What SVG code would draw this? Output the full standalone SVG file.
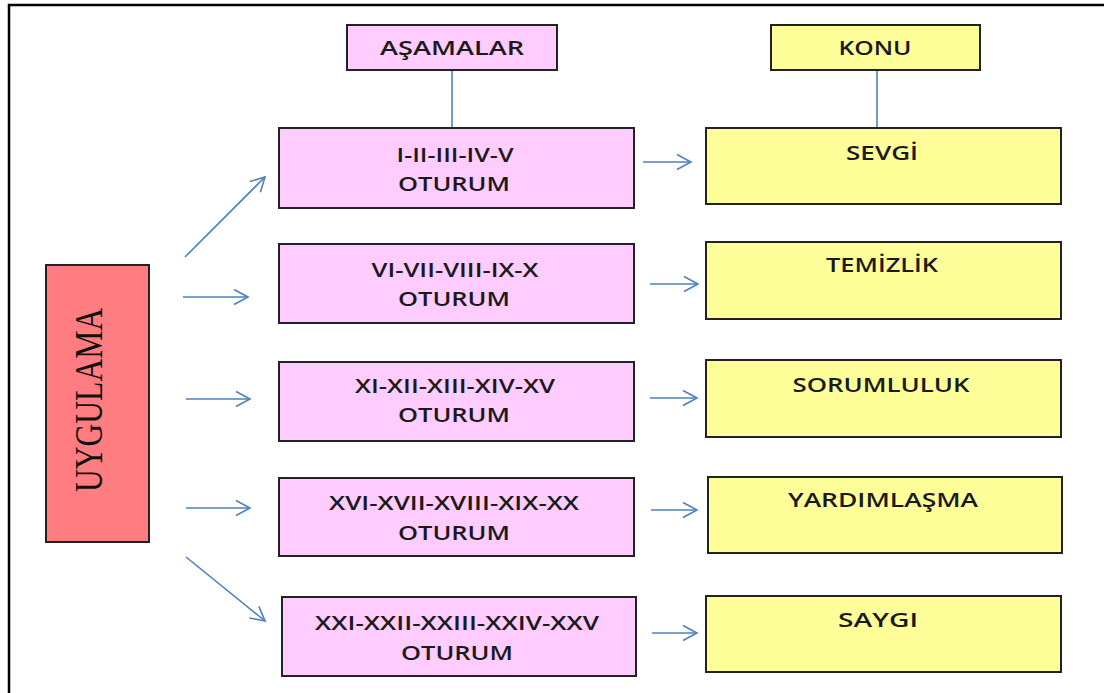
<svg xmlns="http://www.w3.org/2000/svg" width="1104" height="693" viewBox="0 0 1104 693">
<style>
.frame{fill:none;stroke:#000;stroke-width:2.5}
.box{stroke:#222;stroke-width:2}
.pink{fill:#FFCCFF}
.yellow{fill:#FFFF99}
.red{fill:#FF7C80}
.t{font-family:"Open Sans","Liberation Sans",sans-serif;font-size:20px;font-weight:600;fill:#1a1a1a;text-anchor:middle}
.serif{font-family:"Liberation Serif","Times New Roman",serif;font-size:40px;fill:#111;text-anchor:middle}
.ln{stroke:#4F81BD;stroke-width:1.6;fill:none}
.arr{stroke:#4F81BD;stroke-width:1.6;fill:none;marker-end:url(#ah)}
</style>
<defs>
<marker id="ah" viewBox="0 0 18 18" markerWidth="18" markerHeight="18" refX="16" refY="9" orient="auto" markerUnits="userSpaceOnUse">
<path d="M2,1.5 L16,9 L2,16.5" fill="none" stroke="#4F81BD" stroke-width="1.6"/>
</marker>
</defs>
<rect x="0" y="0" width="1104" height="693" fill="#fff"/>
<rect class="frame" x="9" y="5" width="1110" height="700"/>

<g id="connectors">
<line class="ln" x1="452" y1="70" x2="452" y2="128"/>
<line class="ln" x1="877" y1="70" x2="877" y2="128"/>
<line class="arr" x1="185" y1="257" x2="265" y2="177"/>
<line class="arr" x1="183" y1="297" x2="248" y2="297"/>
<line class="arr" x1="186" y1="399" x2="250" y2="399"/>
<line class="arr" x1="186" y1="508" x2="250" y2="508"/>
<line class="arr" x1="186" y1="557" x2="265" y2="621"/>
<line class="arr" x1="643" y1="162" x2="691" y2="162"/>
<line class="arr" x1="650" y1="284" x2="698" y2="284"/>
<line class="arr" x1="650" y1="398" x2="697" y2="398"/>
<line class="arr" x1="651" y1="510" x2="697" y2="510"/>
<line class="arr" x1="652" y1="633" x2="697" y2="633"/>
</g>

<g id="uygulama">
<rect class="box red" x="46" y="265" width="103" height="277"/>
<text class="serif" x="102" y="400" transform="rotate(-90 102 400)" textLength="184" lengthAdjust="spacingAndGlyphs">UYGULAMA</text>
</g>

<g id="asamalar">
<rect class="box pink" x="347" y="25" width="210" height="45"/>
<text class="t" x="452" y="55" textLength="144" lengthAdjust="spacingAndGlyphs">AŞAMALAR</text>
</g>
<g id="konu">
<rect class="box yellow" x="771" y="25" width="209" height="45"/>
<text class="t" x="875" y="55" textLength="73" lengthAdjust="spacingAndGlyphs">KONU</text>
</g>

<g id="a1">
<rect class="box pink" x="279" y="128" width="355" height="80"/>
<text class="t" x="455" y="162" textLength="117" lengthAdjust="spacingAndGlyphs">I-II-III-IV-V</text>
<text class="t" x="454" y="191" textLength="112" lengthAdjust="spacingAndGlyphs">OTURUM</text>
</g>
<g id="a2">
<rect class="box pink" x="279" y="244" width="355" height="79"/>
<text class="t" x="455" y="277" textLength="167" lengthAdjust="spacingAndGlyphs">VI-VII-VIII-IX-X</text>
<text class="t" x="454" y="306" textLength="112" lengthAdjust="spacingAndGlyphs">OTURUM</text>
</g>
<g id="a3">
<rect class="box pink" x="279" y="362" width="355" height="79"/>
<text class="t" x="455" y="393" textLength="200" lengthAdjust="spacingAndGlyphs">XI-XII-XIII-XIV-XV</text>
<text class="t" x="454" y="422" textLength="112" lengthAdjust="spacingAndGlyphs">OTURUM</text>
</g>
<g id="a4">
<rect class="box pink" x="279" y="478" width="355" height="78"/>
<text class="t" x="454" y="510" textLength="250" lengthAdjust="spacingAndGlyphs">XVI-XVII-XVIII-XIX-XX</text>
<text class="t" x="454" y="540" textLength="112" lengthAdjust="spacingAndGlyphs">OTURUM</text>
</g>
<g id="a5">
<rect class="box pink" x="282" y="597" width="354" height="79"/>
<text class="t" x="457" y="630" textLength="284" lengthAdjust="spacingAndGlyphs">XXI-XXII-XXIII-XXIV-XXV</text>
<text class="t" x="457" y="660" textLength="112" lengthAdjust="spacingAndGlyphs">OTURUM</text>
</g>

<g id="k1">
<rect class="box yellow" x="706" y="128" width="355" height="76"/>
<text class="t" x="882" y="160" textLength="72" lengthAdjust="spacingAndGlyphs">SEVGİ</text>
</g>
<g id="k2">
<rect class="box yellow" x="706" y="242" width="355" height="77"/>
<text class="t" x="882" y="272" textLength="112" lengthAdjust="spacingAndGlyphs">TEMİZLİK</text>
</g>
<g id="k3">
<rect class="box yellow" x="706" y="360" width="355" height="77"/>
<text class="t" x="881" y="392" textLength="177" lengthAdjust="spacingAndGlyphs">SORUMLULUK</text>
</g>
<g id="k4">
<rect class="box yellow" x="708" y="477" width="354" height="76"/>
<text class="t" x="883" y="507" textLength="190" lengthAdjust="spacingAndGlyphs">YARDIMLAŞMA</text>
</g>
<g id="k5">
<rect class="box yellow" x="706" y="596" width="355" height="76"/>
<text class="t" x="878" y="627" textLength="80" lengthAdjust="spacingAndGlyphs">SAYGI</text>
</g>
</svg>
